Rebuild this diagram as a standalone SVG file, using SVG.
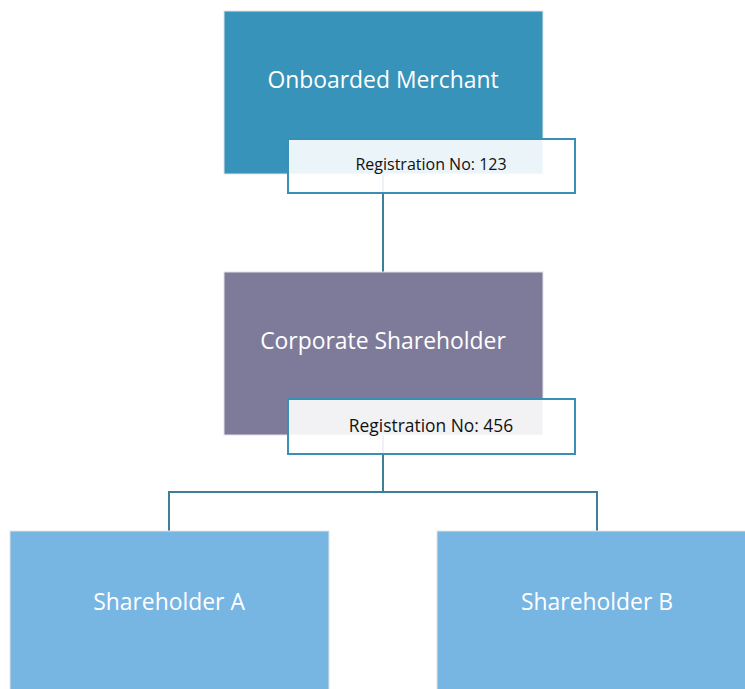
<svg xmlns="http://www.w3.org/2000/svg" width="745" height="689" viewBox="0 0 745 689">
<style>
.box{stroke:#e4e4e4;stroke-width:1}
.lbl{fill:#ffffff;fill-opacity:0.9;stroke:#3a8fb7;stroke-width:2}
.title{font-family:"Open Sans","Liberation Sans",sans-serif;fill:#ffffff;text-anchor:middle;font-size:22.9px}
.reg{font-family:"Open Sans","Liberation Sans",sans-serif;fill:#111111;text-anchor:middle}
.conn{fill:none;stroke:#3d7f99;stroke-width:2}
</style>
<rect width="745" height="689" fill="#ffffff"/>
<g id="connectors">
<path class="conn" d="M383 174 V272"/>
<path class="conn" d="M383 435 V492 M169 492 H597 M169 491 V531 M597 491 V531"/>
</g>
<g id="onboarded-merchant">
<rect class="box" x="224" y="11" width="319" height="163" fill="#3793ba"/>
<text class="title" x="383" y="88">Onboarded Merchant</text>
<rect class="lbl" x="288" y="139" width="287" height="54"/>
<text class="reg" x="431" y="170" font-size="16">Registration No: 123</text>
</g>
<g id="corporate-shareholder">
<rect class="box" x="224" y="272" width="319" height="163" fill="#7e7b9a"/>
<text class="title" x="383" y="349">Corporate Shareholder</text>
<rect class="lbl" x="288" y="399" width="287" height="55"/>
<text class="reg" x="431" y="432" font-size="17.4">Registration No: 456</text>
</g>
<g id="shareholder-a">
<rect class="box" x="10" y="531" width="319" height="163" fill="#77b5e3"/>
<text class="title" x="169" y="610">Shareholder A</text>
</g>
<g id="shareholder-b">
<rect class="box" x="437" y="531" width="319" height="163" fill="#77b5e3"/>
<text class="title" x="597" y="610">Shareholder B</text>
</g>
</svg>
